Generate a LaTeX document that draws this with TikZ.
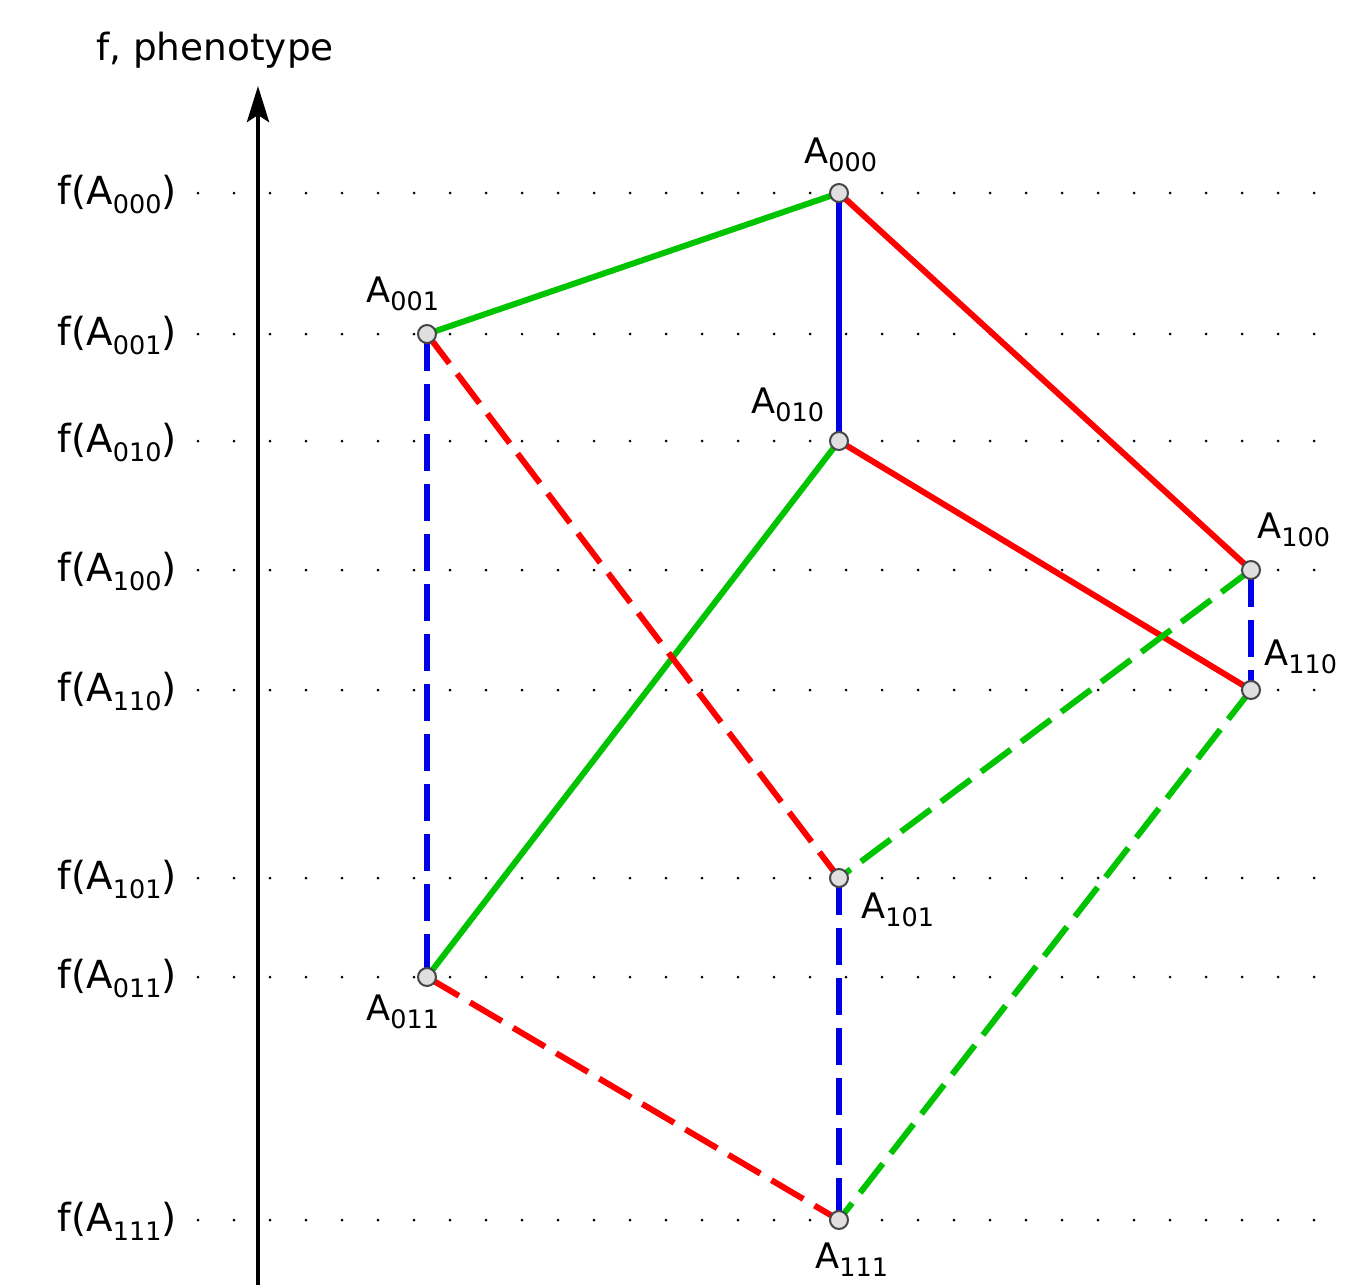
\documentclass[tikz,border=0pt]{standalone}
\usepackage{fontspec}
\setmainfont{DejaVu Sans}
\usetikzlibrary{arrows.meta}
\definecolor{ggreen}{RGB}{0,196,0}
\definecolor{rred}{RGB}{255,0,0}
\definecolor{bblue}{RGB}{0,0,230}
\definecolor{vfill}{RGB}{224,222,222}
\definecolor{vdraw}{RGB}{70,70,70}
\newcommand\sbx[1]{\raisebox{-0.25em}{\fontsize{14.5pt}{14.5pt}\selectfont #1}}
\newcommand\Ax[1]{A\sbx{#1}}
\begin{document}
\begin{tikzpicture}[x=0.02cm,y=-0.02cm,
  vtx/.style={circle,draw=vdraw,fill=vfill,line width=0.04cm,minimum size=0.36cm,inner sep=0pt},
  lbl/.style={font=\fontsize{20pt}{20pt}\selectfont,anchor=base west,inner sep=0pt},
  rowlbl/.style={font=\fontsize{22pt}{22pt}\selectfont,anchor=base east,inner sep=0pt},
  edgeline/.style={line width=0.12cm},
  dsh/.style={edgeline,dash pattern=on 0.74cm off 0.26cm},
  dotmark/.style={fill=black,draw=none}]
\useasboundingbox (0,0) rectangle (1363,1285);
% rows with dotted guides and labels
\foreach \yy/\code in {193/000,334/001,441/010,570/100,690/110,878/101,977/011,1220/111}{
  \node[rowlbl] (r\code) at (177,\yy+11) {f(\Ax{\code})};
  \foreach \k in {0,...,31}{
    \fill[dotmark] (198+36*\k,\yy) circle (0.03cm);
  }
}
% axis
\coordinate (axbot) at (258,1290);
\coordinate (axtop) at (258,86);
\draw[line width=0.09cm,-{Stealth[length=0.72cm,width=0.44cm,inset=0.14cm]}] (axbot) -- (axtop);
\node[font=\fontsize{21.3pt}{21.3pt}\selectfont,inner sep=0pt] (axlbl) at (215,50) {f, phenotype};
% vertices
\coordinate (c000) at (839,193);
\coordinate (c001) at (427,334);
\coordinate (c010) at (839,441);
\coordinate (c100) at (1251,570);
\coordinate (c110) at (1251,690);
\coordinate (c101) at (839,878);
\coordinate (c011) at (427,977);
\coordinate (c111) at (839,1220);
% edges
\draw[edgeline,ggreen] (c000) -- (c001);
\draw[edgeline,bblue] (c000) -- (c010);
\draw[edgeline,rred] (c000) -- (c100);
\draw[edgeline,ggreen] (c010) -- (c011);
\draw[edgeline,rred] (c010) -- (c110);
\draw[dsh,bblue] (c001) -- (c011);
\draw[dsh,rred] (c001) -- (c101);
\draw[dsh,bblue] (c100) -- (c110);
\draw[dsh,ggreen] (c100) -- (c101);
\draw[dsh,ggreen] (c110) -- (c111);
\draw[dsh,bblue] (c101) -- (c111);
\draw[dsh,rred] (c011) -- (c111);
% vertex markers
\foreach \code in {000,001,010,100,110,101,011,111}{
  \node[vtx] (v\code) at (c\code) {};
}
% vertex labels
\node[lbl] (l000) at (804,163) {\Ax{000}};
\node[lbl] (l001) at (366,302) {\Ax{001}};
\node[lbl] (l010) at (751,413) {\Ax{010}};
\node[lbl] (l100) at (1257,538) {\Ax{100}};
\node[lbl] (l110) at (1264,665) {\Ax{110}};
\node[lbl] (l101) at (861,918) {\Ax{101}};
\node[lbl] (l011) at (366,1020) {\Ax{011}};
\node[lbl] (l111) at (815,1268) {\Ax{111}};
\end{tikzpicture}
\end{document}
